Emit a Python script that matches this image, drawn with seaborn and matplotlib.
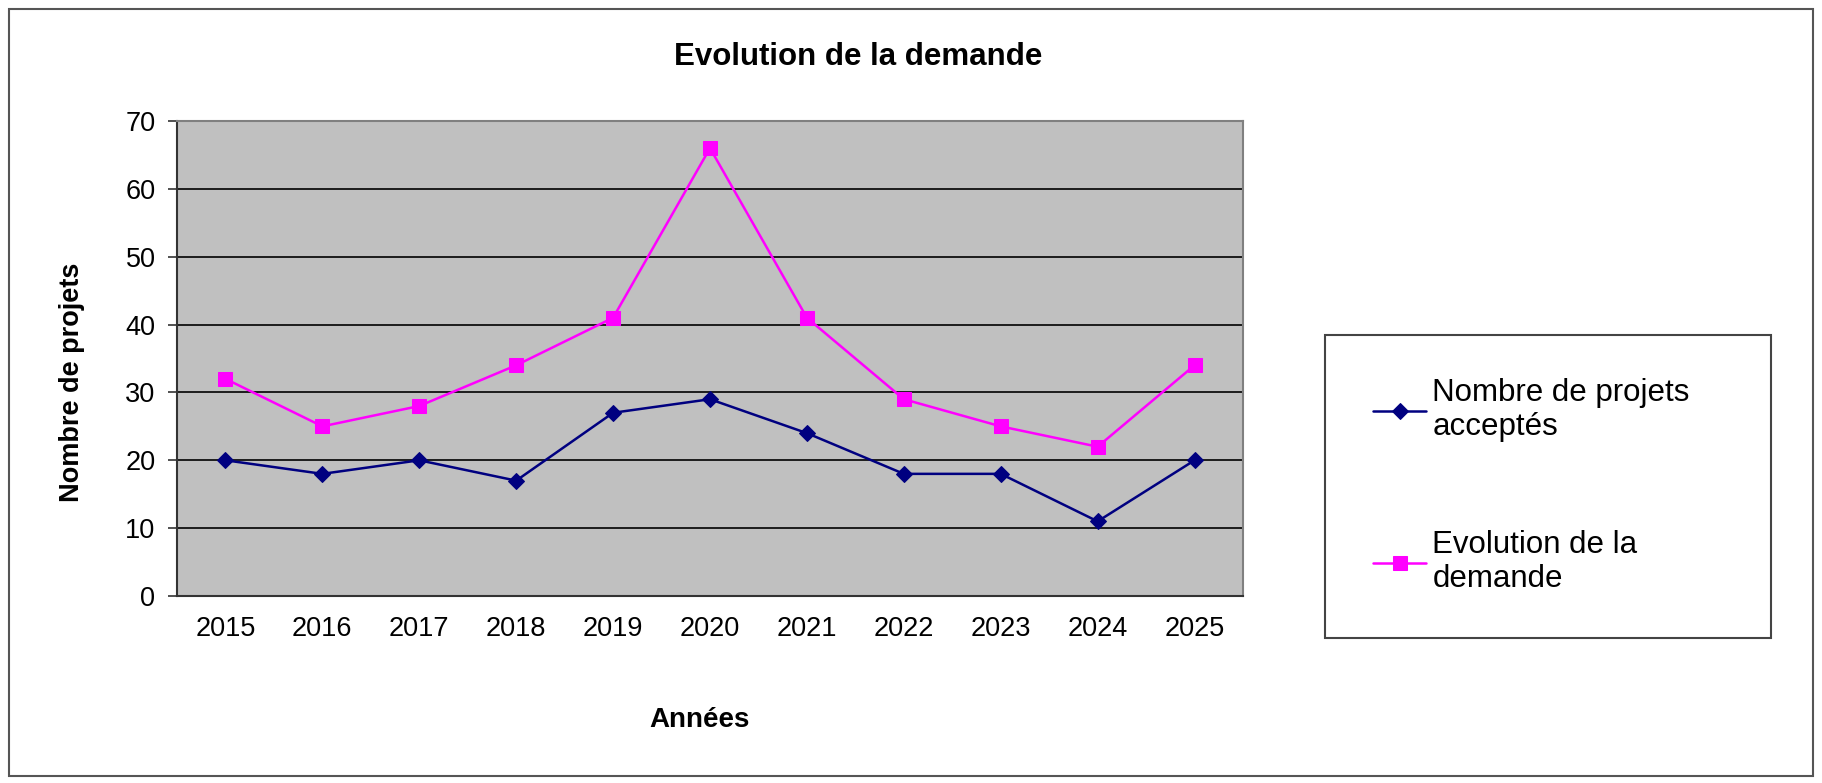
import matplotlib
matplotlib.use("Agg")
import matplotlib.pyplot as plt
import seaborn as sns
import numpy as np
import pandas as pd
from matplotlib.patches import Rectangle

# data
years = ["2015", "2016", "2017", "2018", "2019", "2020", "2021", "2022", "2023", "2024", "2025"]
acceptes = [20, 18, 20, 17, 27, 29, 24, 18, 18, 11, 20]
demande = [32, 25, 28, 34, 41, 66, 41, 29, 25, 22, 34]
y_ticks = [0, 10, 20, 30, 40, 50, 60, 70]

sns.set_style("white")
plt.rcParams['font.family'] = ['Liberation Sans', 'DejaVu Sans']
plt.rcParams['text.color'] = 'black'
plt.rcParams['xtick.color'] = 'black'
plt.rcParams['ytick.color'] = 'black'

W, H = 1822, 783
fig = plt.figure(figsize=(W / 100, H / 100), dpi=100)

# outer chart border
fig.patches.append(Rectangle((9 / W, 1 - 776 / H), (1813 - 9) / W, (776 - 9) / H,
                             transform=fig.transFigure, fill=False,
                             edgecolor='#555555', linewidth=1.5))

ax = fig.add_axes([177 / W, 1 - 596 / H, (1243 - 177) / W, (596 - 121) / H])
ax.set_facecolor('#C0C0C0')

df = pd.DataFrame({"x": np.arange(len(years)), "acc": acceptes, "dem": demande})

sns.lineplot(data=df, x="x", y="acc", ax=ax, color='#000080', marker='D',
             markersize=8.5, markeredgecolor='#000080', linewidth=1.8,
             label="Nombre de projets\naccept\u00e9s")
sns.lineplot(data=df, x="x", y="dem", ax=ax, color='#FF00FF', marker='s',
             markersize=10, markeredgecolor='#FF00FF', linewidth=1.8,
             label="Evolution de la\ndemande")

ax.set_xlim(-0.5, len(years) - 0.5)
ax.set_ylim(0, 70)
ax.set_yticks(y_ticks)
ax.set_yticklabels([str(v) for v in y_ticks], fontsize=19.5)
ax.set_xticks(np.arange(len(years)))
ax.set_xticklabels(years, fontsize=19.5)
ax.set_xticks(np.arange(len(years) + 1) - 0.5, minor=True)
ax.tick_params(axis='x', which='major', length=0, pad=14.5)
ax.tick_params(axis='x', which='minor', length=6.5, width=1.2, color='#333333', direction='out')
ax.tick_params(axis='y', length=6.5, width=1.2, color='#333333', direction='out', pad=9, left=True)

for v in y_ticks[1:-1]:
    ax.axhline(v, color='black', linewidth=1.2, zorder=0.5)

for s in ['left', 'bottom']:
    ax.spines[s].set_color('#333333')
    ax.spines[s].set_linewidth(1.5)
for s in ['top', 'right']:
    ax.spines[s].set_color('#808080')
    ax.spines[s].set_linewidth(1.5)

ax.set_xlabel("")
ax.set_ylabel("")

fig.text(858 / W, 1 - 57 / H, "Evolution de la demande", ha='center', va='center',
         fontsize=22.5, fontweight='bold')
fig.text(72 / W, 1 - 382 / H, "Nombre de projets", ha='center', va='center',
         rotation=90, fontsize=19.5, fontweight='bold')
fig.text(700 / W, 1 - 720 / H, "Ann\u00e9es", ha='center', va='center',
         fontsize=20, fontweight='bold')

# legend box
fig.patches.append(Rectangle((1325 / W, 1 - 638 / H), (1771 - 1325) / W, (638 - 335) / H,
                             transform=fig.transFigure, fill=False,
                             edgecolor='#444444', linewidth=1.5))
ax.legend(loc='center left', bbox_to_anchor=(1373 / W, 1 - 486 / H),
          bbox_transform=fig.transFigure, frameon=False, fontsize=22.5,
          handlelength=1.7, handletextpad=0.2, labelspacing=2.8, borderpad=0,
          borderaxespad=0)

fig.savefig("out.png", dpi=100)
